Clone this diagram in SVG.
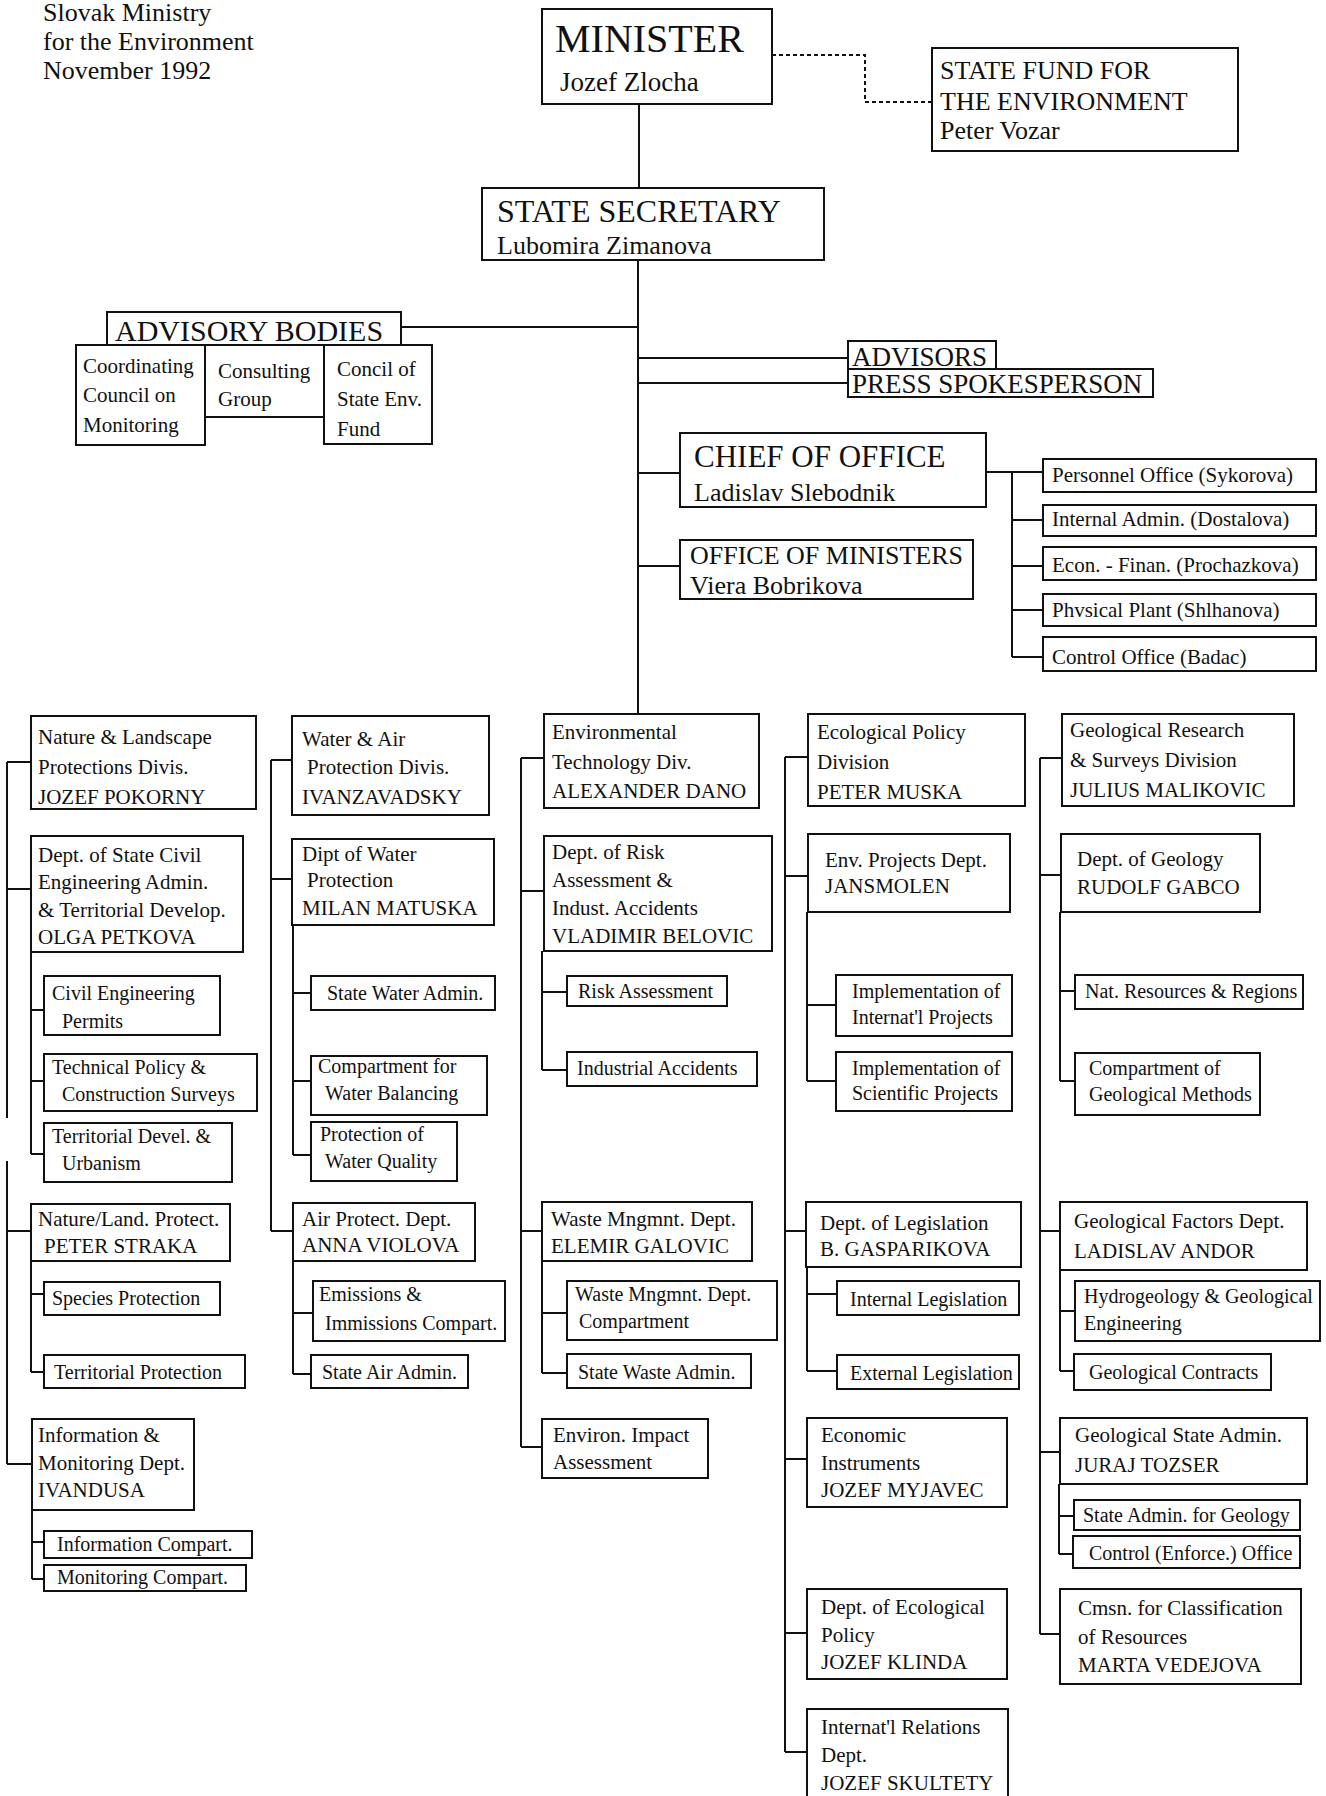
<svg xmlns="http://www.w3.org/2000/svg" width="1326" height="1796" viewBox="0 0 1326 1796">
<style>
text{font-family:"Liberation Serif","Times New Roman",serif;fill:#111}
rect.b{fill:none;stroke:#111;stroke-width:2}
.cn path,.cn line{stroke:#111;stroke-width:2;fill:none}
.dash{stroke-dasharray:4 3}
.t{font-size:26px}
.big{font-size:40px}
.h1{font-size:31px}
.h2{font-size:26px}
.b{font-size:21px}
.s{font-size:20px}
</style>
<rect width="1326" height="1796" fill="#fff"/>
<g id="title"><text class="t" x="43" y="21">Slovak Ministry</text><text class="t" x="43" y="50">for the Environment</text><text class="t" x="43" y="79">November 1992</text></g>

<g class="cn" id="connectors">
<line x1="639" y1="104" x2="639" y2="188"/>
<line x1="638" y1="260" x2="638" y2="714"/>
<path class="dash" d="M772 55H865V102H932"/>
<line x1="402" y1="327" x2="638" y2="327"/>
<line x1="638" y1="358" x2="848" y2="358"/>
<line x1="638" y1="383" x2="848" y2="383"/>
<line x1="638" y1="473" x2="680" y2="473"/>
<line x1="638" y1="566" x2="680" y2="566"/>
<path d="M986 472H1043M1012 472V657M1012 520H1043M1012 566H1043M1012 610H1043M1012 657H1043"/>
<!-- column 1 -->
<path d="M7 762V1118M7 1161V1464M7 762H31M7 889H31M7 1231H31M7 1464H32"/>
<path d="M31 952V1154M31 1010H44M31 1081H44M31 1154H44"/>
<path d="M31 1261V1372M31 1294H44M31 1372H44"/>
<path d="M32 1510V1579M32 1542H44M32 1579H44"/>
<!-- column 2 -->
<path d="M271 760V1231M271 760H292M271 879H292M271 1231H293"/>
<path d="M293 925V1155M293 993H311M293 1081H311M293 1155H311"/>
<path d="M293 1261V1374M293 1313H313M293 1374H311"/>
<!-- column 3 -->
<path d="M521 758V1447M521 758H544M521 891H544M521 1231H542M521 1447H542"/>
<path d="M542 951V1070M542 992H567M542 1070H567"/>
<path d="M542 1261V1373M542 1313H567M542 1373H567"/>
<!-- column 4 -->
<path d="M785 757V1752M785 757H808M785 876H808M785 1231H806M785 1459H807M785 1633H807M785 1752H807"/>
<path d="M807 912V1081M807 1005H836M807 1081H836"/>
<path d="M807 1267V1371M807 1294H837M807 1371H837"/>
<!-- column 5 -->
<path d="M1040 758V1634M1040 758H1062M1040 875H1061M1040 1231H1060M1040 1452H1060M1040 1634H1060"/>
<path d="M1060 912V1081M1060 991H1075M1060 1081H1075"/>
<path d="M1060 1270V1371M1060 1311H1075M1060 1371H1074"/>
<path d="M1059 1484V1554M1059 1516H1074M1059 1554H1073"/>
</g>

<g id="minister"><rect class="b" x="542" y="9" width="230" height="95"/><text class="big" x="555" y="52">MINISTER</text><text x="560" y="91" font-size="27">Jozef Zlocha</text></g>
<g id="state-secretary"><rect class="b" x="482" y="188" width="342" height="72"/><text x="497" y="222" font-size="32">STATE SECRETARY</text><text class="h2" x="497" y="254">Lubomira Zimanova</text></g>
<g id="state-fund"><rect class="b" x="932" y="48" width="306" height="103"/><text class="t" x="940" y="79">STATE FUND FOR</text><text class="t" x="940" y="110">THE ENVIRONMENT</text><text class="t" x="940" y="139">Peter Vozar</text></g>
<g id="advisory-bodies"><rect class="b" x="107" y="312" width="294" height="33"/><text x="115" y="341" font-size="30">ADVISORY BODIES</text></g>
<g id="coordinating"><rect class="b" x="76" y="345" width="129" height="100"/><text class="b" x="83" y="373">Coordinating</text><text class="b" x="83" y="402">Council on</text><text class="b" x="83" y="432">Monitoring</text></g>
<g id="consulting"><rect class="b" x="205" y="345" width="119" height="72"/><text class="b" x="218" y="378">Consulting</text><text class="b" x="218" y="406">Group</text></g>
<g id="concil"><rect class="b" x="324" y="345" width="108" height="99"/><text class="b" x="337" y="376">Concil of</text><text class="b" x="337" y="406">State Env.</text><text class="b" x="337" y="436">Fund</text></g>
<g id="advisors"><rect class="b" x="848" y="341" width="148" height="28"/><text x="852" y="366" font-size="27">ADVISORS</text></g>
<g id="press"><rect class="b" x="848" y="369" width="305" height="28"/><text x="852" y="393" font-size="27">PRESS SPOKESPERSON</text></g>
<g id="chief"><rect class="b" x="680" y="433" width="306" height="74"/><text class="h1" x="694" y="467">CHIEF OF OFFICE</text><text class="h2" x="694" y="501">Ladislav Slebodnik</text></g>
<g id="office-ministers"><rect class="b" x="680" y="540" width="293" height="59"/><text class="h2" x="690" y="564">OFFICE OF MINISTERS</text><text class="h2" x="690" y="594">Viera Bobrikova</text></g>
<g id="personnel"><rect class="b" x="1043" y="459" width="273" height="33"/><text class="b" x="1052" y="482">Personnel  Office (Sykorova)</text></g>
<g id="internal-admin"><rect class="b" x="1043" y="505" width="273" height="31"/><text class="b" x="1052" y="526">Internal Admin. (Dostalova)</text></g>
<g id="econ-finan"><rect class="b" x="1043" y="547" width="273" height="33"/><text class="b" x="1052" y="572">Econ. - Finan. (Prochazkova)</text></g>
<g id="physical-plant"><rect class="b" x="1043" y="594" width="273" height="32"/><text class="b" x="1052" y="617">Phvsical Plant (Shlhanova)</text></g>
<g id="control-office"><rect class="b" x="1043" y="637" width="273" height="34"/><text class="b" x="1052" y="664">Control Office (Badac)</text></g>

<!-- column 1 -->
<g id="nature"><rect class="b" x="31" y="716" width="225" height="93"/><text class="b" x="38" y="744">Nature &amp; Landscape</text><text class="b" x="38" y="774">Protections Divis.</text><text class="b" x="38" y="804">JOZEF POKORNY</text></g>
<g id="state-civil"><rect class="b" x="31" y="836" width="212" height="116"/><text class="b" x="38" y="862">Dept. of State Civil</text><text class="b" x="38" y="889">Engineering Admin.</text><text class="b" x="38" y="917">&amp; Territorial Develop.</text><text class="b" x="38" y="944">OLGA PETKOVA</text></g>
<g id="civil-permits"><rect class="b" x="44" y="976" width="176" height="59"/><text class="s" x="52" y="1000">Civil Engineering</text><text class="s" x="62" y="1028">Permits</text></g>
<g id="tech-policy"><rect class="b" x="44" y="1054" width="213" height="57"/><text class="s" x="52" y="1074">Technical Policy &amp;</text><text class="s" x="62" y="1101">Construction Surveys</text></g>
<g id="terr-devel"><rect class="b" x="44" y="1123" width="188" height="59"/><text class="s" x="52" y="1143">Territorial Devel. &amp;</text><text class="s" x="62" y="1170">Urbanism</text></g>
<g id="nature-land"><rect class="b" x="31" y="1204" width="199" height="57"/><text class="b" x="38" y="1226">Nature/Land. Protect.</text><text class="b" x="44" y="1253">PETER STRAKA</text></g>
<g id="species"><rect class="b" x="44" y="1282" width="176" height="33"/><text class="s" x="52" y="1305">Species Protection</text></g>
<g id="terr-prot"><rect class="b" x="44" y="1355" width="201" height="33"/><text class="s" x="54" y="1379">Territorial Protection</text></g>
<g id="info-mon"><rect class="b" x="32" y="1419" width="162" height="91"/><text class="b" x="38" y="1442">Information &amp;</text><text class="b" x="38" y="1470">Monitoring Dept.</text><text class="b" x="38" y="1497">IVANDUSA</text></g>
<g id="info-comp"><rect class="b" x="44" y="1531" width="208" height="27"/><text class="s" x="57" y="1551">Information Compart.</text></g>
<g id="mon-comp"><rect class="b" x="44" y="1565" width="202" height="26"/><text class="s" x="57" y="1584">Monitoring Compart.</text></g>

<!-- column 2 -->
<g id="water-air"><rect class="b" x="292" y="716" width="197" height="99"/><text class="b" x="302" y="746">Water &amp; Air</text><text class="b" x="307" y="774">Protection Divis.</text><text class="b" x="302" y="804">IVANZAVADSKY</text></g>
<g id="dipt-water"><rect class="b" x="292" y="839" width="202" height="86"/><text class="b" x="302" y="861">Dipt of Water</text><text class="b" x="307" y="887">Protection</text><text class="b" x="302" y="915">MILAN MATUSKA</text></g>
<g id="state-water"><rect class="b" x="311" y="976" width="184" height="34"/><text class="s" x="327" y="1000">State Water Admin.</text></g>
<g id="water-balancing"><rect class="b" x="311" y="1056" width="176" height="59"/><text class="s" x="318" y="1073">Compartment for</text><text class="s" x="325" y="1100">Water Balancing</text></g>
<g id="water-quality"><rect class="b" x="311" y="1122" width="146" height="59"/><text class="s" x="320" y="1141">Protection of</text><text class="s" x="325" y="1168">Water Quality</text></g>
<g id="air-protect"><rect class="b" x="293" y="1203" width="182" height="58"/><text class="b" x="302" y="1226">Air Protect. Dept.</text><text class="b" x="302" y="1252">ANNA VIOLOVA</text></g>
<g id="emissions"><rect class="b" x="313" y="1281" width="192" height="60"/><text class="s" x="319" y="1301">Emissions &amp;</text><text class="s" x="325" y="1330">Immissions Compart.</text></g>
<g id="state-air"><rect class="b" x="311" y="1355" width="157" height="33"/><text class="s" x="322" y="1379">State Air Admin.</text></g>

<!-- column 3 -->
<g id="env-tech"><rect class="b" x="544" y="714" width="215" height="94"/><text class="b" x="552" y="739">Environmental</text><text class="b" x="552" y="769">Technology Div.</text><text class="b" x="552" y="798">ALEXANDER DANO</text></g>
<g id="risk"><rect class="b" x="544" y="836" width="228" height="115"/><text class="b" x="552" y="859">Dept. of Risk</text><text class="b" x="552" y="887">Assessment &amp;</text><text class="b" x="552" y="915">Indust. Accidents</text><text class="b" x="552" y="943">VLADIMIR BELOVIC</text></g>
<g id="risk-assessment"><rect class="b" x="567" y="976" width="160" height="30"/><text class="s" x="578" y="998">Risk Assessment</text></g>
<g id="industrial-accidents"><rect class="b" x="567" y="1052" width="190" height="34"/><text class="s" x="577" y="1075">Industrial Accidents</text></g>
<g id="waste"><rect class="b" x="542" y="1202" width="210" height="59"/><text class="b" x="551" y="1226">Waste Mngmnt. Dept.</text><text class="b" x="551" y="1253">ELEMIR GALOVIC</text></g>
<g id="waste-comp"><rect class="b" x="567" y="1281" width="210" height="59"/><text class="s" x="575" y="1301">Waste Mngmnt. Dept.</text><text class="s" x="579" y="1328">Compartment</text></g>
<g id="state-waste"><rect class="b" x="567" y="1354" width="184" height="34"/><text class="s" x="578" y="1379">State Waste Admin.</text></g>
<g id="eia"><rect class="b" x="542" y="1419" width="166" height="59"/><text class="b" x="553" y="1442">Environ. Impact</text><text class="b" x="553" y="1469">Assessment</text></g>

<!-- column 4 -->
<g id="eco-policy"><rect class="b" x="808" y="714" width="217" height="92"/><text class="b" x="817" y="739">Ecological Policy</text><text class="b" x="817" y="769">Division</text><text class="b" x="817" y="799">PETER MUSKA</text></g>
<g id="env-projects"><rect class="b" x="808" y="834" width="202" height="78"/><text class="b" x="825" y="867">Env. Projects Dept.</text><text class="b" x="825" y="893">JANSMOLEN</text></g>
<g id="impl-intl"><rect class="b" x="836" y="975" width="176" height="61"/><text class="s" x="852" y="998">Implementation of</text><text class="s" x="852" y="1024">Internat'l Projects</text></g>
<g id="impl-sci"><rect class="b" x="836" y="1052" width="176" height="59"/><text class="s" x="852" y="1075">Implementation of</text><text class="s" x="852" y="1100">Scientific Projects</text></g>
<g id="legislation"><rect class="b" x="806" y="1202" width="215" height="65"/><text class="b" x="820" y="1230">Dept. of Legislation</text><text class="b" x="820" y="1256">B. GASPARIKOVA</text></g>
<g id="int-legis"><rect class="b" x="837" y="1281" width="182" height="34"/><text class="s" x="850" y="1306">Internal Legislation</text></g>
<g id="ext-legis"><rect class="b" x="837" y="1355" width="182" height="34"/><text class="s" x="850" y="1380">External Legislation</text></g>
<g id="econ-instr"><rect class="b" x="807" y="1418" width="200" height="89"/><text class="b" x="821" y="1442">Economic</text><text class="b" x="821" y="1470">Instruments</text><text class="b" x="821" y="1497">JOZEF MYJAVEC</text></g>
<g id="dept-eco-policy"><rect class="b" x="807" y="1589" width="200" height="90"/><text class="b" x="821" y="1614">Dept. of Ecological</text><text class="b" x="821" y="1642">Policy</text><text class="b" x="821" y="1669">JOZEF KLINDA</text></g>
<g id="intl-relations"><rect class="b" x="807" y="1709" width="201" height="100"/><text class="b" x="821" y="1734">Internat'l Relations</text><text class="b" x="821" y="1762">Dept.</text><text class="b" x="821" y="1790">JOZEF SKULTETY</text></g>

<!-- column 5 -->
<g id="geo-research"><rect class="b" x="1062" y="714" width="232" height="92"/><text class="b" x="1070" y="737">Geological Research</text><text class="b" x="1070" y="767">&amp; Surveys Division</text><text class="b" x="1070" y="797">JULIUS MALIKOVIC</text></g>
<g id="geology"><rect class="b" x="1061" y="834" width="199" height="78"/><text class="b" x="1077" y="866">Dept. of Geology</text><text class="b" x="1077" y="894">RUDOLF GABCO</text></g>
<g id="nat-res"><rect class="b" x="1075" y="975" width="228" height="34"/><text class="s" x="1085" y="998">Nat. Resources &amp; Regions</text></g>
<g id="geo-methods"><rect class="b" x="1075" y="1053" width="185" height="62"/><text class="s" x="1089" y="1075">Compartment of</text><text class="s" x="1089" y="1101">Geological Methods</text></g>
<g id="geo-factors"><rect class="b" x="1060" y="1202" width="247" height="68"/><text class="b" x="1074" y="1228">Geological Factors Dept.</text><text class="b" x="1074" y="1258">LADISLAV ANDOR</text></g>
<g id="hydro"><rect class="b" x="1075" y="1281" width="245" height="60"/><text class="s" x="1084" y="1303">Hydrogeology &amp; Geological</text><text class="s" x="1084" y="1330">Engineering</text></g>
<g id="geo-contracts"><rect class="b" x="1074" y="1354" width="197" height="36"/><text class="s" x="1089" y="1379">Geological Contracts</text></g>
<g id="geo-state"><rect class="b" x="1060" y="1418" width="247" height="66"/><text class="b" x="1075" y="1442">Geological State Admin.</text><text class="b" x="1075" y="1472">JURAJ TOZSER</text></g>
<g id="state-admin-geo"><rect class="b" x="1074" y="1500" width="226" height="30"/><text class="s" x="1083" y="1522">State Admin. for Geology</text></g>
<g id="control-enforce"><rect class="b" x="1073" y="1536" width="227" height="32"/><text class="s" x="1089" y="1560">Control (Enforce.) Office</text></g>
<g id="cmsn"><rect class="b" x="1060" y="1589" width="241" height="95"/><text class="b" x="1078" y="1615">Cmsn. for Classification</text><text class="b" x="1078" y="1644">of Resources</text><text class="b" x="1078" y="1672">MARTA VEDEJOVA</text></g>
</svg>
